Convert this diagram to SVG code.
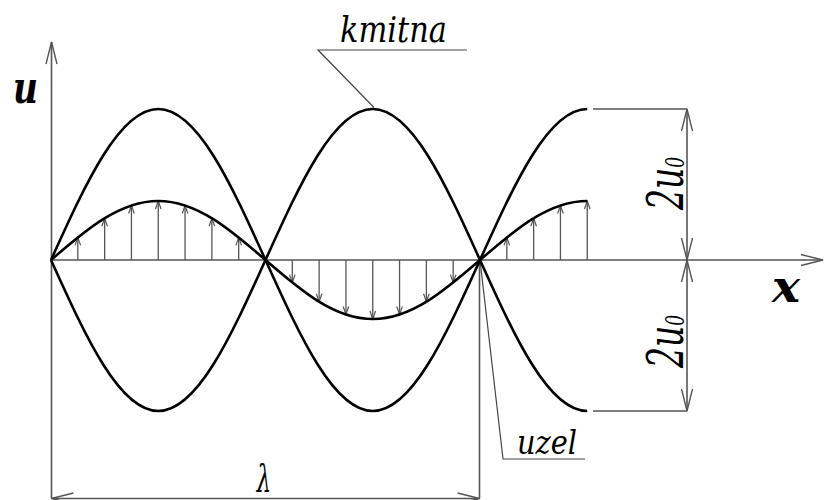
<svg xmlns="http://www.w3.org/2000/svg" width="824" height="500" viewBox="0 0 824 500">
<style>
.ax{stroke:#555;stroke-width:1.6;fill:none}
.thin{stroke:#444;stroke-width:1.2;fill:none}
.wave{stroke:#000;stroke-width:2.6;fill:none;stroke-linejoin:round}
.sm{stroke:#555;stroke-width:1.3;fill:none}
text{font-family:'DejaVu Serif',serif;font-style:italic;fill:#000}
</style>
<defs>
<marker id="big" markerUnits="userSpaceOnUse" markerWidth="30" markerHeight="16" viewBox="-24 -8 26 16" refX="0" refY="0" orient="auto-start-reverse">
<path d="M-22,-5.5 L0,0 L-22,5.5" fill="none" stroke="#555" stroke-width="1.4"/>
</marker>
<marker id="sm" markerUnits="userSpaceOnUse" markerWidth="12" markerHeight="8" viewBox="-10 -4 11 8" refX="0" refY="0" orient="auto">
<path d="M-8,-2.8 L0,0 L-8,2.8" fill="none" stroke="#555" stroke-width="1.2"/>
</marker>
</defs>
<rect width="824" height="500" fill="#fff"/>
<g id="axes">
<line class="ax" x1="51.5" y1="498.5" x2="51.5" y2="42" marker-end="url(#big)"/>
<line class="ax" x1="51.5" y1="260" x2="823" y2="260" marker-end="url(#big)"/>
</g>
<g id="connectors">
<g id="small-arrows">
<line class="sm" x1="77.81" y1="260" x2="77.81" y2="237.42" marker-end="url(#sm)"/>
<line class="sm" x1="104.63" y1="260" x2="104.63" y2="218.28" marker-end="url(#sm)"/>
<line class="sm" x1="131.44" y1="260" x2="131.44" y2="205.49" marker-end="url(#sm)"/>
<line class="sm" x1="158.25" y1="260" x2="158.25" y2="201" marker-end="url(#sm)"/>
<line class="sm" x1="185.06" y1="260" x2="185.06" y2="205.49" marker-end="url(#sm)"/>
<line class="sm" x1="211.88" y1="260" x2="211.88" y2="218.28" marker-end="url(#sm)"/>
<line class="sm" x1="238.69" y1="260" x2="238.69" y2="237.42" marker-end="url(#sm)"/>
<line class="sm" x1="292.31" y1="260" x2="292.31" y2="282.58" marker-end="url(#sm)"/>
<line class="sm" x1="319.13" y1="260" x2="319.13" y2="301.72" marker-end="url(#sm)"/>
<line class="sm" x1="345.94" y1="260" x2="345.94" y2="314.51" marker-end="url(#sm)"/>
<line class="sm" x1="372.75" y1="260" x2="372.75" y2="319" marker-end="url(#sm)"/>
<line class="sm" x1="399.56" y1="260" x2="399.56" y2="314.51" marker-end="url(#sm)"/>
<line class="sm" x1="426.38" y1="260" x2="426.38" y2="301.72" marker-end="url(#sm)"/>
<line class="sm" x1="453.19" y1="260" x2="453.19" y2="282.58" marker-end="url(#sm)"/>
<line class="sm" x1="506.81" y1="260" x2="506.81" y2="237.42" marker-end="url(#sm)"/>
<line class="sm" x1="533.63" y1="260" x2="533.63" y2="218.28" marker-end="url(#sm)"/>
<line class="sm" x1="560.44" y1="260" x2="560.44" y2="205.49" marker-end="url(#sm)"/>
<line class="sm" x1="587.25" y1="260" x2="587.25" y2="201" marker-end="url(#sm)"/>
</g>
<g id="dimensions">
<line class="ax" x1="593" y1="109" x2="687" y2="109"/>
<line class="ax" x1="593" y1="411" x2="687" y2="411"/>
<line class="ax" x1="687" y1="109" x2="687" y2="260" marker-start="url(#big)" marker-end="url(#big)"/>
<line class="ax" x1="687" y1="260" x2="687" y2="411" marker-start="url(#big)" marker-end="url(#big)"/>
<line class="ax" x1="479.5" y1="260" x2="479.5" y2="498.5"/>
<line class="ax" x1="51.5" y1="498.5" x2="479.5" y2="498.5" marker-start="url(#big)" marker-end="url(#big)"/>
</g>
<g id="leaders">
<polyline class="thin" points="467,50 318,50 374,107.5"/>
<polyline class="thin" points="585,459 503,459 480,260"/>
</g>
</g>
<g id="envelope-upper">
<path class="wave" d="M51,260 c34.97,-77.36 68.44,-151 107.25,-151 c38.81,0 72.28,73.64 107.25,151 c34.97,77.36 68.44,151 107.25,151 c38.81,0 72.28,-73.64 107.25,-151 c34.97,-77.36 68.44,-151 107.25,-151"/>
</g>
<g id="envelope-lower">
<path class="wave" d="M51,260 c34.97,77.36 68.44,151 107.25,151 c38.81,0 72.28,-73.64 107.25,-151 c34.97,-77.36 68.44,-151 107.25,-151 c38.81,0 72.28,73.64 107.25,151 c34.97,77.36 68.44,151 107.25,151"/>
</g>
<g id="standing-wave">
<path class="wave" d="M51,260 c34.97,-30.23 68.44,-59 107.25,-59 c38.81,0 72.28,28.77 107.25,59 c34.97,30.23 68.44,59 107.25,59 c38.81,0 72.28,-28.77 107.25,-59 c34.97,-30.23 68.44,-59 107.25,-59"/>
</g>
<g id="label-u"><text x="13" y="103" font-size="44" font-weight="bold" textLength="25" lengthAdjust="spacingAndGlyphs">u</text></g>
<g id="label-x"><text x="772" y="302" font-size="44" font-weight="bold" textLength="28" lengthAdjust="spacingAndGlyphs">x</text></g>
<g id="label-kmitna"><text x="340" y="42" font-size="35" textLength="107" lengthAdjust="spacingAndGlyphs">kmitna</text></g>
<g id="label-uzel"><text x="517" y="454" font-size="34" textLength="60" lengthAdjust="spacingAndGlyphs">uzel</text></g>
<g id="label-2u0-upper"><text transform="translate(683,210) rotate(-90) scale(0.66,1)" font-size="50">2u<tspan font-size="26" dy="1">0</tspan></text></g>
<g id="label-2u0-lower"><text transform="translate(683,368) rotate(-90) scale(0.66,1)" font-size="50">2u<tspan font-size="26" dy="1">0</tspan></text></g>
<g id="label-lambda"><text x="0" y="0" font-size="38" font-style="normal" text-anchor="middle" transform="translate(264,492) scale(0.6,1)">λ</text></g>
</svg>
